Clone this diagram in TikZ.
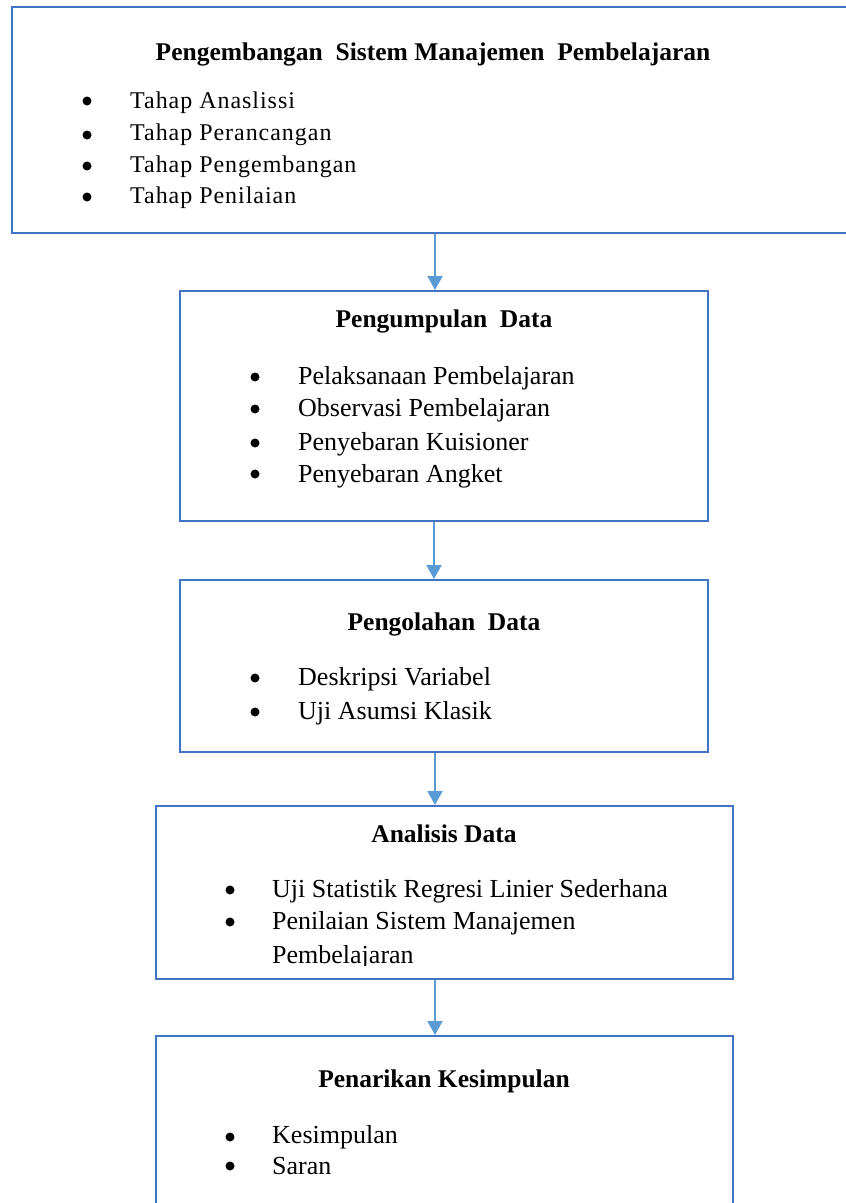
\documentclass[tikz,border=0pt]{standalone}
\usepackage{fontspec}
\setmainfont{Liberation Serif}
\newfontfamily\spacedfont[LetterSpace=4]{Liberation Serif}
\usepackage{tikz}
\usetikzlibrary{arrows.meta,positioning,calc}
\usepackage{xcolor}
\definecolor{boxblue}{HTML}{4472C4}
\definecolor{arrowblue}{HTML}{5B9BD5}

\tikzset{
  stagebox/.style={draw=boxblue, line width=2.3pt, inner sep=0pt, anchor=north west},
  flowarrow/.style={-{Triangle[width=15pt,length=14pt]}, arrowblue, line width=2pt},
  headtxt/.style={font=\fontsize{25.5}{30}\selectfont\bfseries, anchor=base, inner sep=0pt},
  itemtxt/.style={font=\fontsize{26}{30}\selectfont, anchor=base west, inner sep=0pt},
  topitem/.style={font=\fontsize{24}{30}\spacedfont, anchor=base west, inner sep=0pt},
  itemdot/.style={circle, fill=black, inner sep=0pt, minimum size=9pt},
}

\begin{document}
\begin{tikzpicture}[x=1pt, y=-1pt]

  \useasboundingbox (0,0) rectangle (846,1203);

  % ---- the five stages ----
  \node[stagebox, minimum width=850pt, minimum height=226pt] (develop) at (11,6) {};
  \node[stagebox, minimum width=528pt, minimum height=230pt] (collect) at (179,290) {};
  \node[stagebox, minimum width=528pt, minimum height=172pt] (process) at (179,579) {};
  \node[stagebox, minimum width=577pt, minimum height=173pt] (analyse) at (155,805) {};
  \node[stagebox, minimum width=577pt, minimum height=200pt] (conclude) at (155,1035) {};

  % ---- stage 1: development ----
  \node[headtxt] (h1) at (433,60) {Pengembangan\ \ Sistem Manajemen\ \ Pembelajaran};
  \node[itemdot] (d11) at (87,101) {};
  \node[itemdot] (d12) at (87,135) {};
  \node[itemdot] (d13) at (87,166) {};
  \node[itemdot] (d14) at (87,197) {};
  \node[topitem] (t11) at (130,108) {Tahap Anaslissi};
  \node[topitem] (t12) at (130,140) {Tahap Perancangan};
  \node[topitem] (t13) at (130,172) {Tahap Pengembangan};
  \node[topitem] (t14) at (130,203) {Tahap Penilaian};

  % ---- stage 2: data collection ----
  \node[headtxt] (h2) at (444,327) {Pengumpulan\ \ Data};
  \node[itemdot] (d21) at (255,377) {};
  \node[itemdot] (d22) at (255,409) {};
  \node[itemdot] (d23) at (255,443) {};
  \node[itemdot] (d24) at (255,474) {};
  \node[itemtxt] (t21) at (298,384) {Pelaksanaan Pembelajaran};
  \node[itemtxt] (t22) at (298,416) {Observasi Pembelajaran};
  \node[itemtxt] (t23) at (298,450) {Penyebaran Kuisioner};
  \node[itemtxt] (t24) at (298,482) {Penyebaran Angket};

  % ---- stage 3: data processing ----
  \node[headtxt] (h3) at (444,630) {Pengolahan\ \ Data};
  \node[itemdot] (d31) at (255,678) {};
  \node[itemdot] (d32) at (255,712) {};
  \node[itemtxt] (t31) at (298,685) {Deskripsi Variabel};
  \node[itemtxt] (t32) at (298,719) {Uji Asumsi Klasik};

  % ---- stage 4: data analysis ----
  \node[headtxt] (h4) at (444,842) {Analisis Data};
  \node[itemdot] (d41) at (230,890) {};
  \node[itemdot] (d42) at (230,922) {};
  \node[itemtxt] (t41) at (272,897) {Uji Statistik Regresi Linier Sederhana};
  \node[itemtxt] (t42) at (272,929) {Penilaian Sistem Manajemen};
  % the last line is cut off by the box
  \begin{scope}
    \clip (155,930) rectangle (732,965);
    \node[itemtxt] (t43) at (272,963) {Pembelajaran};
  \end{scope}

  % ---- stage 5: conclusions ----
  \node[headtxt] (h5) at (444,1087) {Penarikan Kesimpulan};
  \node[itemdot] (d51) at (230,1137) {};
  \node[itemdot] (d52) at (230,1166) {};
  \node[itemtxt] (t51) at (272,1143) {Kesimpulan};
  \node[itemtxt] (t52) at (272,1174) {Saran};

  % ---- arrows between the stages ----
  \coordinate (a1) at (435,0);
  \coordinate (a2) at (434,0);
  \coordinate (a3) at (435,0);
  \coordinate (a4) at (435,0);
  \draw[flowarrow] (develop.south -| a1) -- (collect.north -| a1);
  \draw[flowarrow] (collect.south -| a2) -- (process.north -| a2);
  \draw[flowarrow] (process.south -| a3) -- (analyse.north -| a3);
  \draw[flowarrow] (analyse.south -| a4) -- (conclude.north -| a4);

\end{tikzpicture}
\end{document}
